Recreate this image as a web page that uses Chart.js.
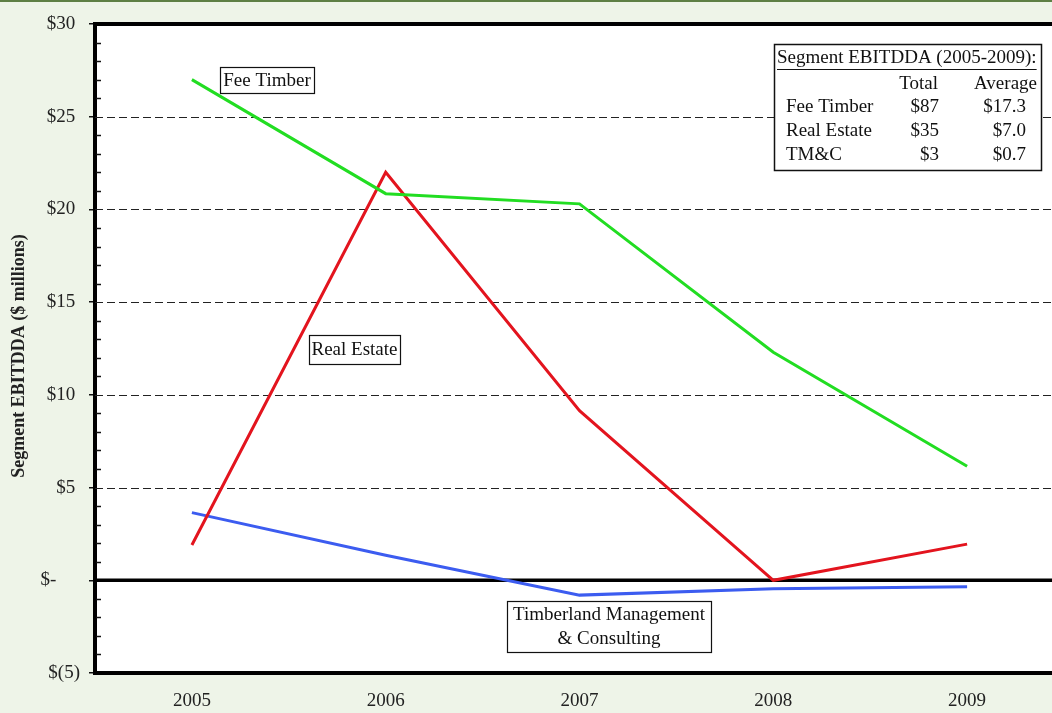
<!DOCTYPE html>
<html>
<head>
<meta charset="utf-8">
<script src="https://cdn.jsdelivr.net/npm/chart.js@4/dist/chart.umd.min.js"></script>
<style>
  html, body { margin: 0; padding: 0; overflow: hidden; background: #eef4e8; }
  #wrap { position: relative; width: 1052px; height: 713px; overflow: hidden; background: #eef4e8; }
  #band { position: absolute; left: 0; top: 0; width: 1052px; height: 2px; background: #5e7f45; z-index: 2; }
  #chart { position: absolute; left: 0; top: 0; }
</style>
</head>
<body>
<div id="wrap">
  <div id="band"></div>
  <canvas id="chart" width="1070" height="713"></canvas>
</div>
<script>
// Segment EBITDDA by year, $ millions
const years = ['2005', '2006', '2007', '2008', '2009'];
const feeTimber = [27.0, 20.85, 20.3, 12.3, 6.15];
const realEstate = [1.9, 22.0, 9.15, 0.0, 1.95];
const tmc = [3.65, 1.35, -0.8, -0.45, -0.35];

const yMin = -5;
const yMax = 30;
const yStep = 5;

const segmentLabels = ['Fee Timber', 'Real Estate', 'TM&C'];
const segmentSeries = [feeTimber, realEstate, tmc];

const SERIF = '"Liberation Serif", "Times New Roman", serif';

function fmtTick(v) {
  if (v === 0) return '$-     ';
  if (v < 0) return '$(' + (-v) + ')';
  return '$' + v + ' ';
}

// Frame, dashed gridlines, zero line and inner minor ticks
const framePlugin = {
  id: 'frame',
  beforeDraw(chart) {
    const { ctx, chartArea: a } = chart;
    ctx.save();
    ctx.fillStyle = '#ffffff';
    ctx.fillRect(a.left, a.top, a.right - a.left, a.bottom - a.top);
    ctx.restore();
  },
  beforeDatasetsDraw(chart) {
    const { ctx, chartArea: a, scales: { y } } = chart;
    ctx.save();
    // dashed gridlines
    ctx.strokeStyle = '#222';
    ctx.lineWidth = 1.2;
    ctx.setLineDash([8, 4]);
    for (let v = yMin + yStep; v < yMax; v += yStep) {
      if (v === 0) continue;
      const py = Math.round(y.getPixelForValue(v)) + 0.5;
      ctx.beginPath();
      ctx.moveTo(a.left, py);
      ctx.lineTo(a.right, py);
      ctx.stroke();
    }
    ctx.setLineDash([]);
    // inner minor ticks
    ctx.lineWidth = 1.5;
    ctx.strokeStyle = '#111';
    for (let v = yMin + 1; v < yMax; v++) {
      if (v % yStep === 0) continue;
      const py = Math.round(y.getPixelForValue(v)) + 0.5;
      ctx.beginPath();
      ctx.moveTo(a.left + 1, py);
      ctx.lineTo(a.left + 6, py);
      ctx.stroke();
    }
    // zero line
    ctx.strokeStyle = '#000';
    ctx.lineWidth = 3.5;
    const z = y.getPixelForValue(0);
    ctx.beginPath();
    ctx.moveTo(a.left, z);
    ctx.lineTo(a.right, z);
    ctx.stroke();
    // top and bottom frame
    ctx.lineWidth = 4;
    ctx.beginPath();
    ctx.moveTo(a.left - 2, a.top);
    ctx.lineTo(a.right, a.top);
    ctx.moveTo(a.left - 2, a.bottom);
    ctx.lineTo(a.right, a.bottom);
    ctx.stroke();
    ctx.restore();
  }
};

function labelBox(ctx, x, y, w, h, lines, lineGap) {
  ctx.fillStyle = '#ffffff';
  ctx.fillRect(x, y, w, h);
  ctx.strokeStyle = '#111';
  ctx.lineWidth = 1.2;
  ctx.strokeRect(x + 0.5, y + 0.5, w, h);
  ctx.fillStyle = '#111';
  ctx.font = '19px ' + SERIF;
  ctx.textAlign = 'center';
  ctx.textBaseline = 'middle';
  const cx = x + w / 2;
  const cy = y + h / 2 + 1;
  const start = cy - (lines.length - 1) * lineGap / 2;
  lines.forEach((t, i) => ctx.fillText(t, cx, start + i * lineGap));
}

// Series call-outs, summary table and axis title
const notesPlugin = {
  id: 'notes',
  afterDatasetsDraw(chart) {
    const { ctx } = chart;
    ctx.save();
    labelBox(ctx, 220, 67, 94, 26, ['Fee Timber'], 0);
    labelBox(ctx, 309, 335, 91, 29, ['Real Estate'], 0);
    labelBox(ctx, 507, 601, 204, 51, ['Timberland Management', '& Consulting'], 24);

    // summary table
    const tx = 774, ty = 44, tw = 267, th = 126;
    ctx.fillStyle = '#ffffff';
    ctx.fillRect(tx, ty, tw, th);
    ctx.strokeStyle = '#111';
    ctx.lineWidth = 1.5;
    ctx.strokeRect(tx + 0.5, ty + 0.5, tw, th);
    ctx.fillStyle = '#111';
    ctx.font = '19px ' + SERIF;
    ctx.textBaseline = 'middle';
    ctx.textAlign = 'left';
    const head = 'Segment EBITDDA (' + years[0] + '-' + years[years.length - 1] + '):';
    ctx.fillText(head, tx + 3, ty + 14);
    const hw = ctx.measureText(head).width;
    ctx.lineWidth = 1;
    ctx.beginPath();
    ctx.moveTo(tx + 3, ty + 25.5);
    ctx.lineTo(tx + 3 + hw, ty + 25.5);
    ctx.stroke();
    ctx.textAlign = 'right';
    ctx.fillText('Total', 938, ty + 40);
    ctx.fillText('Average', 1037, ty + 40);
    segmentLabels.forEach((name, i) => {
      const vals = segmentSeries[i];
      const total = vals.reduce((s, v) => s + v, 0);
      const avg = total / vals.length;
      const ry = ty + 63 + i * 24;
      ctx.textAlign = 'left';
      ctx.fillText(name, 786, ry);
      ctx.textAlign = 'right';
      ctx.fillText('$' + Math.round(total), 939, ry);
      ctx.fillText('$' + avg.toFixed(1), 1026, ry);
    });

    // y-axis title
    ctx.translate(19, 356);
    ctx.rotate(-Math.PI / 2);
    ctx.font = 'bold 18px ' + SERIF;
    ctx.fillStyle = '#222';
    ctx.textAlign = 'center';
    ctx.textBaseline = 'middle';
    ctx.fillText('Segment EBITDDA ($ millions)', 0, 0);
    ctx.restore();
  }
};

const lineStyle = { borderWidth: 3, pointRadius: 0, tension: 0, fill: false };

new Chart(document.getElementById('chart'), {
  type: 'line',
  data: {
    labels: years,
    datasets: [
      { label: 'Fee Timber', data: feeTimber, borderColor: '#22dd22', ...lineStyle },
      { label: 'Real Estate', data: realEstate, borderColor: '#e3141e', ...lineStyle },
      { label: 'Timberland Management & Consulting', data: tmc, borderColor: '#3c5cf0', ...lineStyle }
    ]
  },
  options: {
    responsive: false,
    animation: false,
    layout: { padding: { top: 24, right: 6, bottom: 0, left: 0 } },
    plugins: { legend: { display: false }, tooltip: { enabled: false } },
    scales: {
      x: {
        offset: true,
        grid: { display: false },
        border: { display: false },
        ticks: { color: '#222', font: { family: SERIF, size: 19 }, padding: 9, maxRotation: 0 },
        afterFit(scale) { scale.height = 40; }
      },
      y: {
        min: yMin,
        max: yMax,
        grid: { drawOnChartArea: false, drawTicks: true, tickLength: 6, color: '#111', lineWidth: 1.5 },
        border: { display: true, color: '#000', width: 4 },
        ticks: {
          stepSize: yStep,
          color: '#222',
          font: { family: SERIF, size: 19 },
          padding: 9,
          callback: (v) => fmtTick(v)
        },
        afterFit(scale) { scale.width = 95; }
      }
    }
  },
  plugins: [framePlugin, notesPlugin]
});
</script>
</body>
</html>
